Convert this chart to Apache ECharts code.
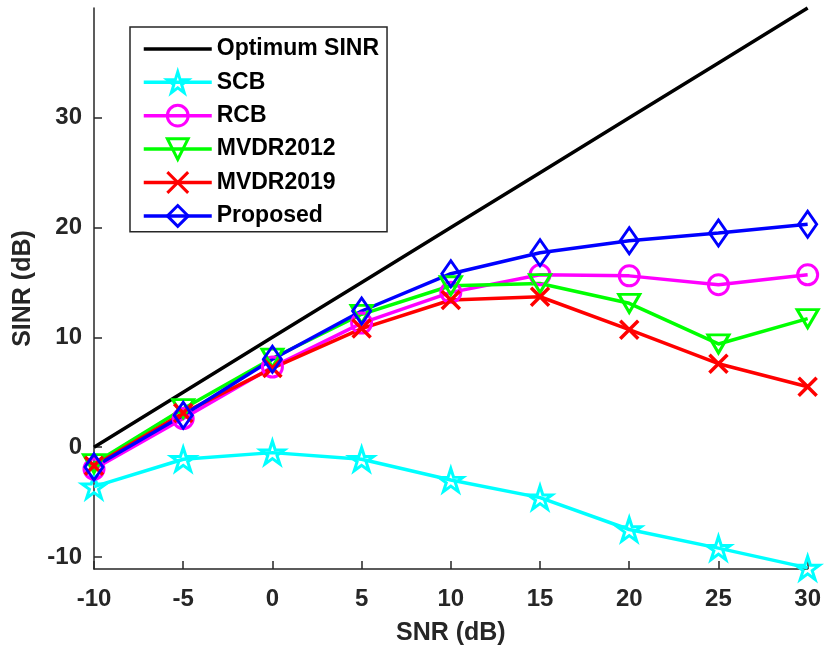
<!DOCTYPE html>
<html>
<head>
<meta charset="utf-8">
<script src="https://cdn.jsdelivr.net/npm/echarts@6/dist/echarts.min.js"></script>
<style>
html,body{margin:0;padding:0;background:#fff;}
#chart{width:824px;height:651px;}
</style>
</head>
<body>
<div id="chart"></div>
<script>
// ---- data ----
const snr = [-10, -5, 0, 5, 10, 15, 20, 25, 30];
const optimum = [0, 5, 10, 15, 20, 25, 30, 35, 40];
const scb = [-3.6, -1.1, -0.5, -1.1, -3.0, -4.6, -7.5, -9.2, -11.0];
const rcb = [-2.0, 2.6, 7.3, 11.3, 14.1, 15.7, 15.6, 14.8, 15.7];
const mvdr2012 = [-1.5, 3.5, 8.1, 12.1, 14.7, 14.9, 13.1, 9.4, 11.7];
const mvdr2019 = [-1.7, 3.1, 7.2, 10.8, 13.4, 13.7, 10.7, 7.6, 5.5];
const proposed = [-1.8, 2.9, 8.0, 12.4, 15.8, 17.7, 18.8, 19.5, 20.3];
const seriesNames = ['Optimum SINR', 'SCB', 'RCB', 'MVDR2012', 'MVDR2019', 'Proposed'];
const yTicks = [-10, 0, 10, 20, 30];
const xTicks = [-10, -5, 0, 5, 10, 15, 20, 25, 30];

const pair = arr => snr.map((x, i) => [x, arr[i]]);

const FONT = "'Liberation Sans', Arial, Helvetica, sans-serif";
const AXC = '#262626';

const STAR = 'path://M100,0 L122.3,69.3 L195.1,69.1 L136.1,111.7 L158.8,180.9 L100,138 L41.2,180.9 L63.9,111.7 L4.9,69.1 L77.7,69.3 Z';
const CIRCLE = 'path://M0,10 A10,10 0 1,1 20,10 A10,10 0 1,1 0,10 Z';
const TRI_DOWN = 'path://M0,0 L20,0 L10,17 Z';
const XMARK = 'path://M0,0 L10,10 M10,0 L0,10';
const DIAMOND = 'path://M5,0 L10,7 L5,14 L0,7 Z';

function mk(name, data, color, symbol, size, lw) {
  return {
    name: name,
    type: 'line',
    data: pair(data),
    symbol: symbol,
    symbolSize: size,
    showSymbol: true,
    clip: false,
    lineStyle: { color: color, width: 3.5 },
    itemStyle: { color: 'rgba(0,0,0,0)', borderColor: color, borderWidth: lw },
    emphasis: { disabled: true }
  };
}

const chart = echarts.init(document.getElementById('chart'), null, { renderer: 'canvas' });
const option = {
  animation: false,
  backgroundColor: '#fff',
  grid: { left: 94, right: 16, top: 8, bottom: 82, containLabel: false },
  xAxis: {
    type: 'value', min: -10, max: 30, interval: 5,
    name: 'SNR (dB)', nameLocation: 'middle', nameGap: 52,
    nameTextStyle: { fontFamily: FONT, fontWeight: 'bold', fontSize: 25, color: AXC },
    axisLine: { onZero: false, lineStyle: { color: AXC, width: 1.5 } },
    axisTick: { inside: true, length: 8, lineStyle: { color: AXC, width: 1.5 } },
    axisLabel: { margin: 18, fontFamily: FONT, fontWeight: 'bold', fontSize: 24, color: AXC,
      customValues: xTicks },
    splitLine: { show: false }
  },
  yAxis: {
    type: 'value', min: -11.1, max: 40,
    name: 'SINR (dB)', nameLocation: 'middle', nameGap: 58,
    nameTextStyle: { fontFamily: FONT, fontWeight: 'bold', fontSize: 25, color: AXC },
    axisLine: { show: true, onZero: false, lineStyle: { color: AXC, width: 1.5 } },
    axisTick: { show: true, inside: true, length: 8, lineStyle: { color: AXC, width: 1.5 }, customValues: yTicks },
    axisLabel: { margin: 12, fontFamily: FONT, fontWeight: 'bold', fontSize: 24, color: AXC,
      customValues: yTicks },
    splitLine: { show: false }
  },
  legend: {
    orient: 'vertical', left: 130, top: 27,
    data: seriesNames,
    backgroundColor: '#fff',
    borderColor: AXC, borderWidth: 1.5,
    padding: [10, 8, 4, 12],
    itemWidth: 68, itemHeight: 26, itemGap: 9.6,
    lineStyle: { width: 3.5 },
    itemStyle: { borderWidth: 3 },
    textStyle: { fontFamily: FONT, fontWeight: 'bold', fontSize: 23, color: '#000' },
    selectedMode: false
  },
  series: [
    {
      name: seriesNames[0], type: 'line', data: pair(optimum),
      symbol: 'circle', symbolSize: 1, showSymbol: false, clip: false,
      lineStyle: { color: '#000', width: 3.5 },
      itemStyle: { color: 'rgba(0,0,0,0)', borderColor: 'rgba(0,0,0,0)', borderWidth: 0 },
      emphasis: { disabled: true }
    },
    mk(seriesNames[1], scb, '#00FFFF', STAR, [24, 23], 3),
    mk(seriesNames[2], rcb, '#FF00FF', CIRCLE, 20, 3),
    mk(seriesNames[3], mvdr2012, '#00FF00', TRI_DOWN, [21, 18], 3),
    mk(seriesNames[4], mvdr2019, '#FF0000', XMARK, 18, 3.5),
    mk(seriesNames[5], proposed, '#0000FF', DIAMOND, [18, 26], 3)
  ]
};
chart.setOption(option);
</script>
</body>
</html>
